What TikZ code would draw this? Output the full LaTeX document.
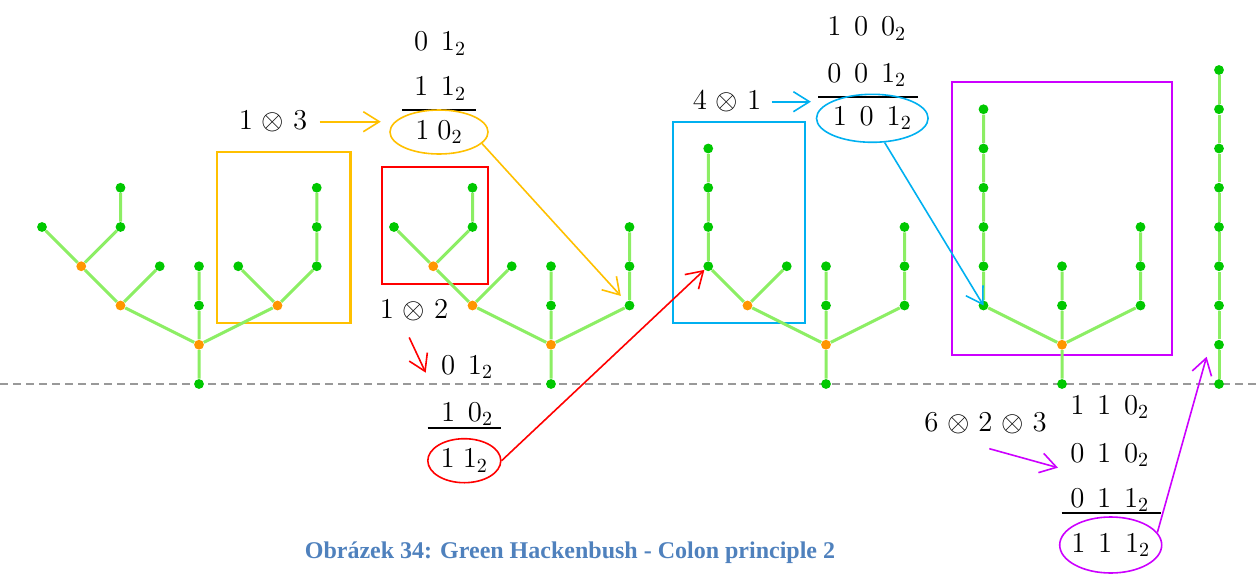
\documentclass[tikz,border=0pt]{standalone}
\usepackage{fontspec}
\newfontfamily\capfont{Liberation Serif}
\usepackage{tikz}
\usetikzlibrary{arrows.meta,shapes.geometric,positioning}
\definecolor{hbgreen}{RGB}{0,200,0}
\definecolor{hborange}{RGB}{255,150,0}
\definecolor{hbedge}{RGB}{140,238,100}
\definecolor{capblue}{RGB}{79,129,189}
\newcommand{\gp}{\mkern8mu}
\newcommand{\ox}{\mkern1.5mu\otimes\mkern1.5mu}
\newcommand{\inring}[1]{\makebox[0pt]{$#1$}}
\tikzset{
  gv/.style={circle,fill=hbgreen,inner sep=0pt,minimum size=4.9pt},
  ov/.style={gv,fill=hborange},
  stalk/.style={hbedge,line width=1.5pt},
  marker/.style={line width=1.1pt},
  arr/.style={line width=0.8pt,-{Straight Barb[length=8pt,width=10pt]}},
  num/.style={inner sep=0pt,font=\fontsize{14}{17}\selectfont},
  ring/.style={num,ellipse,draw,line width=0.8pt},
  sumline/.style={line width=1pt},
  ground/.style={draw=black!40,line width=1pt,dash pattern=on 4pt off 2.5pt}
}
\begin{document}
\begin{tikzpicture}[x=0.5pt,y=-0.5pt,>=Latex]
\definecolor{cY}{RGB}{255,192,0}\definecolor{cR}{RGB}{255,0,0}
\definecolor{cB}{RGB}{0,176,240}\definecolor{cM}{RGB}{204,0,255}
\useasboundingbox (0,0) rectangle (1258,573);
\draw[ground] (0,384) -- (1258,384);
% boxes round the parts that are swapped
\draw[marker,cY] (217,152) rectangle (350.5,323);
\draw[marker,cR] (382.3,167.3) rectangle (487.7,283.7);
\draw[marker,cB] (673.3,122.3) rectangle (805.3,323.3);
\draw[marker,cM] (951.7,82.3) rectangle (1172.3,355.3);
% tree 1
\begin{scope}[shift={(199,384)},x=19.625pt,y=19.625pt]
\node[gv] (a0) at (0,0) {}; \node[ov] (a1) at (0,1) {};
\node[gv] (a2) at (0,2) {}; \node[gv] (a3) at (0,3) {};
\node[ov] (aL) at (-2,2) {}; \node[ov] (aLL) at (-3,3) {}; \node[gv] (aLR) at (-1,3) {};
\node[gv] (aLLa) at (-4,4) {}; \node[gv] (aLLb) at (-2,4) {}; \node[gv] (aLLc) at (-2,5) {};
\node[ov] (aR) at (2,2) {}; \node[gv] (aRL) at (1,3) {};
\node[gv] (aRa) at (3,3) {}; \node[gv] (aRb) at (3,4) {}; \node[gv] (aRc) at (3,5) {};
\draw[stalk] (a0)--(a1)--(a2)--(a3) (a1)--(aL)--(aLL)--(aLLa) (aLL)--(aLLb)--(aLLc) (aL)--(aLR)
  (a1)--(aR)--(aRL) (aR)--(aRa)--(aRb)--(aRc);
\end{scope}
% tree 2
\begin{scope}[shift={(551,384)},x=19.625pt,y=19.625pt]
\node[gv] (b0) at (0,0) {}; \node[ov] (b1) at (0,1) {};
\node[gv] (b2) at (0,2) {}; \node[gv] (b3) at (0,3) {};
\node[ov] (bL) at (-2,2) {}; \node[ov] (bLL) at (-3,3) {}; \node[gv] (bLR) at (-1,3) {};
\node[gv] (bLLa) at (-4,4) {}; \node[gv] (bLLb) at (-2,4) {}; \node[gv] (bLLc) at (-2,5) {};
\node[gv] (bR) at (2,2) {}; \node[gv] (bRb) at (2,3) {}; \node[gv] (bRc) at (2,4) {};
\draw[stalk] (b0)--(b1)--(b2)--(b3) (b1)--(bL)--(bLL)--(bLLa) (bLL)--(bLLb)--(bLLc) (bL)--(bLR)
  (b1)--(bR)--(bRb)--(bRc);
\end{scope}
% tree 3
\begin{scope}[shift={(826,384)},x=19.625pt,y=19.625pt]
\node[gv] (c0) at (0,0) {}; \node[ov] (c1) at (0,1) {};
\node[gv] (c2) at (0,2) {}; \node[gv] (c3) at (0,3) {};
\node[ov] (cL) at (-2,2) {}; \node[gv] (cLR) at (-1,3) {};
\node[gv] (cLL) at (-3,3) {}; \node[gv] (cLLb) at (-3,4) {};
\node[gv] (cLLc) at (-3,5) {}; \node[gv] (cLLd) at (-3,6) {};
\node[gv] (cR) at (2,2) {}; \node[gv] (cRb) at (2,3) {}; \node[gv] (cRc) at (2,4) {};
\draw[stalk] (c0)--(c1)--(c2)--(c3) (c1)--(cL)--(cLL)--(cLLb)--(cLLc)--(cLLd) (cL)--(cLR)
  (c1)--(cR)--(cRb)--(cRc);
\end{scope}
% tree 4
\begin{scope}[shift={(1062,384)},x=19.625pt,y=19.625pt]
\node[gv] (d0) at (0,0) {}; \node[ov] (d1) at (0,1) {};
\node[gv] (d2) at (0,2) {}; \node[gv] (d3) at (0,3) {};
\node[gv] (dL) at (-2,2) {}; \node[gv] (dLb) at (-2,3) {}; \node[gv] (dLc) at (-2,4) {};
\node[gv] (dLd) at (-2,5) {}; \node[gv] (dLe) at (-2,6) {}; \node[gv] (dLf) at (-2,7) {};
\node[gv] (dR) at (2,2) {}; \node[gv] (dRb) at (2,3) {}; \node[gv] (dRc) at (2,4) {};
\draw[stalk] (d0)--(d1)--(d2)--(d3) (d1)--(dL)--(dLb)--(dLc)--(dLd)--(dLe)--(dLf)
  (d1)--(dR)--(dRb)--(dRc);
\end{scope}
% tree 5: one stalk
\begin{scope}[shift={(1219,384)},x=19.625pt,y=19.625pt]
\foreach \k in {0,...,8} \node[gv] (e\k) at (0,\k) {};
\draw[stalk] (e0)--(e1)--(e2)--(e3)--(e4)--(e5)--(e6)--(e7)--(e8);
\end{scope}
% 1 x 3
\node[num] (l13) at (273,121.7) {$1\ox 3$};
\node[num,anchor=base] (s1a) at (440,50.7) {$0\gp 1_2$};
\node[num,anchor=base] (s1b) at (440,95.7) {$1\gp 1_2$};
\draw[sumline] (402,110) -- (476,110);
\node[ring,draw=cY,minimum width=49pt,minimum height=22pt] (s1c) at (439,132) {\inring{1\;0_2}};
\draw[arr,cY,shorten <=6pt,shorten >=4.2pt] (l13.east) -- (l13.east -| s1c.west);
% 1 x 2
\node[num] (l12) at (414,310) {$1\ox 2$};
\node[num,anchor=base] (s2a) at (467,374) {$0\gp 1_2$};
\node[num,anchor=base] (s2b) at (467,421) {$1\gp 0_2$};
\draw[sumline] (427.7,427.5) -- (500.7,427.5);
\node[ring,draw=cR,minimum width=36.5pt,minimum height=22pt] (s2c) at (464.3,460.7) {\inring{1\;1_2}};
\draw[arr,cR] ([xshift=-2.4pt,yshift=-8.3pt]l12.south) -- ([xshift=-7.45pt,yshift=-2.9pt]s2a.west);
% 4 x 1
\node[num] (l41) at (727,101.7) {$4\ox 1$};
\node[num,anchor=base] (s3a) at (866.7,35.7) {$1\gp 0\gp 0_2$};
\node[num,anchor=base] (s3b) at (866.7,82.3) {$0\gp 0\gp 1_2$};
\draw[sumline] (818.3,96.7) -- (918.3,96.7);
\node[ring,draw=cB,minimum width=55.8pt,minimum height=24pt] (s3c) at (872.3,118.3) {\inring{1\gp 0\gp 1_2}};
\draw[arr,cB,shorten <=5pt,shorten >=2.4pt] (l41.east) -- (l41.east -| s3c.west);
% 6 x 2 x 3
\node[num] (l623) at (985.5,423) {$6\ox 2\ox 3$};
\node[num,anchor=base] (s4a) at (1109.7,414) {$1\gp 1\gp 0_2$};
\node[num,anchor=base] (s4b) at (1109.7,462.3) {$0\gp 1\gp 0_2$};
\node[num,anchor=base] (s4c) at (1109.7,507.3) {$0\gp 1\gp 1_2$};
\draw[sumline] (1061.7,513) -- (1161,513);
\node[ring,draw=cM,minimum width=51pt,minimum height=28pt] (s4d) at (1110.7,545) {\inring{1\gp 1\gp 1_2}};
\draw[arr,cM] ([xshift=1.9pt,yshift=-7.4pt]l623.south) -- ([xshift=-5.95pt,yshift=-6.25pt]s4b.west);
% where the sums go
\draw[arr,cY,shorten >=3.8pt] (s1c.-15) -- (bR);
\draw[arr,cR] (s2c.east) -- (cLL);
\draw[arr,cB] (s3c.-63) -- (dL.center);
\draw[arr,cM] (s4d.15) -- ([xshift=-6.2pt,yshift=-6pt]e1.center);
\node[font=\capfont\bfseries\fontsize{12}{14}\selectfont,text=capblue,anchor=base] (cap) at (570,558.6)
  {Obrázek 34: Green Hackenbush - Colon principle 2};
\end{tikzpicture}
\end{document}
